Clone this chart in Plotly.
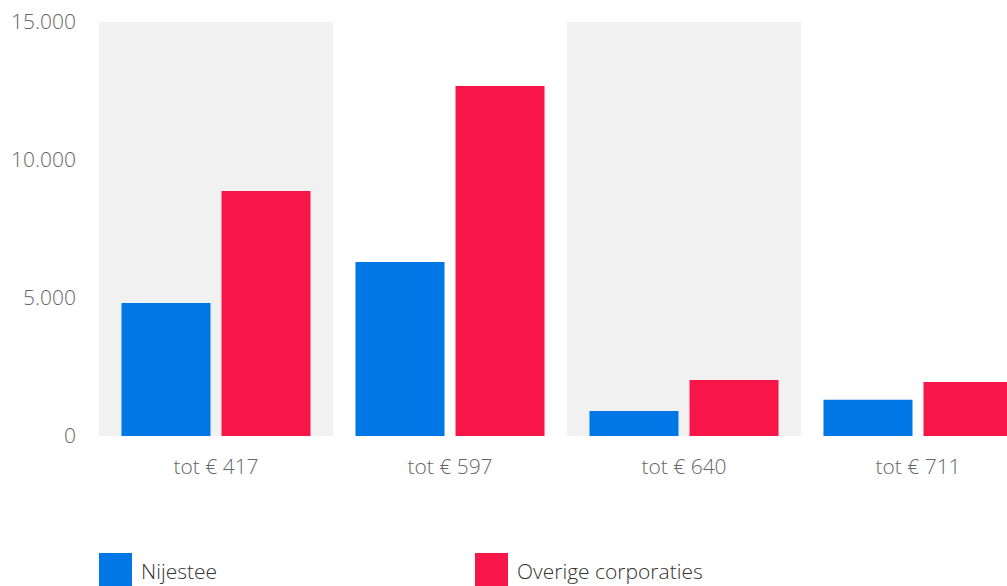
import plotly.graph_objects as go

categories = ["tot € 417", "tot € 597", "tot € 640", "tot € 711"]
nijestee = [4820, 6300, 910, 1310]
overige = [8880, 12680, 2030, 1960]
series_names = ["Nijestee", "Overige corporaties"]
tick_vals = [0, 5000, 10000, 15000]
tick_text = ["0", "5.000", "10.000", "15.000"]

BLUE = "#0077e6"
RED = "#f81548"
BAND = "#f1f1f1"
FONT = "Open Sans"

W, H = 1007, 586
ML, MR, MT, MB = 99, 0, 22, 150
plot_w = W - ML - MR
plot_h = H - MT - MB

fig = go.Figure()
fig.add_trace(go.Bar(x=list(range(len(categories))), y=nijestee, name=series_names[0],
                     marker=dict(color=BLUE, line=dict(width=0))))
fig.add_trace(go.Bar(x=list(range(len(categories))), y=overige, name=series_names[1],
                     marker=dict(color=RED, line=dict(width=0))))

# alternating shaded category bands
for i in range(0, len(categories), 2):
    fig.add_shape(type="rect", xref="x", yref="y", x0=i - 0.5, x1=i + 0.5,
                  y0=0, y1=tick_vals[-1], fillcolor=BAND, line=dict(width=0),
                  layer="below")

# legend drawn as large swatches with labels below the plot
def px_x(px):
    return (px - ML) / plot_w

def px_y(py):
    return (MT + plot_h - py) / plot_h

legend_items = [(series_names[0], BLUE, 99), (series_names[1], RED, 475)]
for name, color, left in legend_items:
    fig.add_shape(type="rect", xref="paper", yref="paper",
                  x0=px_x(left), x1=px_x(left + 33), y0=px_y(553), y1=px_y(586),
                  fillcolor=color, line=dict(width=0))
    fig.add_annotation(xref="paper", yref="paper", x=px_x(left + 40), y=px_y(571),
                       text=name, showarrow=False, xanchor="left", yanchor="middle",
                       font=dict(family=FONT, size=21, color="#333333", weight=300))

fig.update_layout(
    width=W, height=H,
    margin=dict(l=ML, r=MR, t=MT, b=MB, pad=0),
    paper_bgcolor="white", plot_bgcolor="white",
    barmode="group", bargap=0.145, bargroupgap=0.11,
    showlegend=False,
    font=dict(family=FONT, size=21, color="#666666", weight=300),
)
fig.update_xaxes(
    tickmode="array", tickvals=list(range(len(categories))), ticktext=categories,
    range=[-0.5, 3.5 - (1035 - 1007) / 234], showgrid=False, zeroline=False,
    showline=False, ticks="", ticklabelstandoff=16,
    tickfont=dict(family=FONT, size=21, color="#666666", weight=300),
)
fig.update_yaxes(
    tickmode="array", tickvals=tick_vals, ticktext=tick_text,
    range=[0, 15000], showgrid=False, zeroline=False, showline=False,
    ticks="", ticklabelstandoff=22,
    tickfont=dict(family=FONT, size=21, color="#666666", weight=300),
)

fig.write_html("out.html", config={"displayModeBar": False})
